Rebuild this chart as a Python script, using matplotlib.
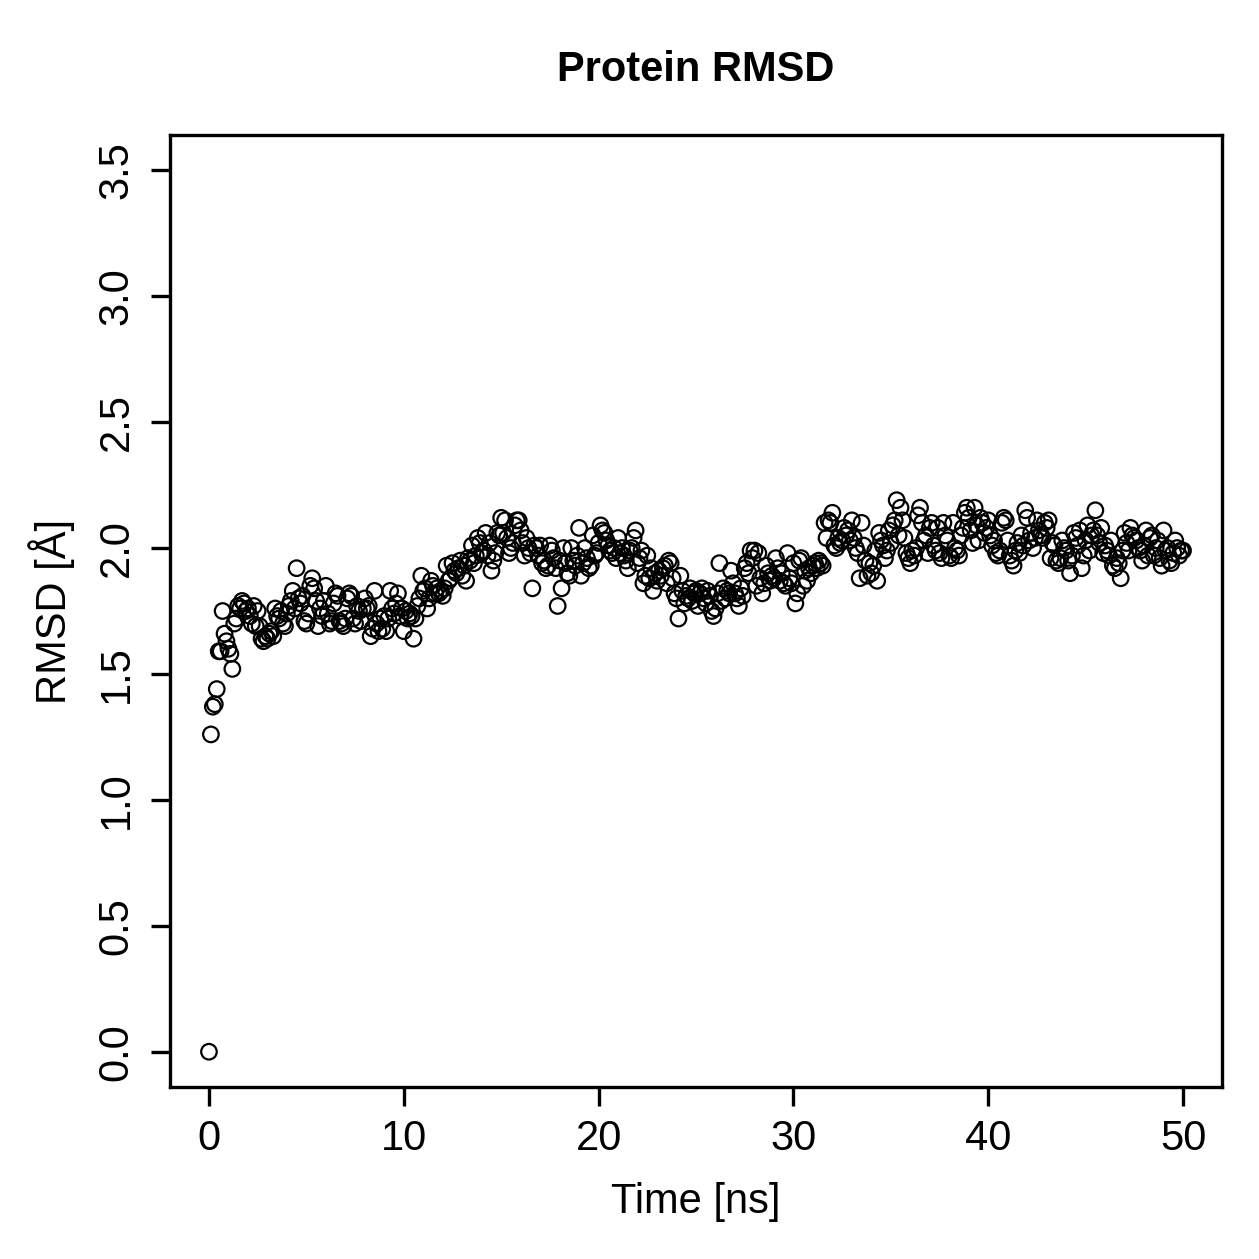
import numpy as np
import matplotlib
matplotlib.use("Agg")
import matplotlib.pyplot as plt

plt.rcParams['font.family'] = ['Liberation Sans', 'DejaVu Sans']

# RMSD values, one frame every 0.1 ns (rows = 1 ns)
rmsd = [
    0.00, 1.26, 1.37, 1.38, 1.44, 1.59, 1.59, 1.75, 1.66, 1.63,
    1.60, 1.58, 1.52, 1.70, 1.72, 1.77, 1.76, 1.79, 1.78, 1.75,
    1.76, 1.73, 1.70, 1.77, 1.69, 1.75, 1.69, 1.64, 1.63, 1.65,
    1.64, 1.66, 1.67, 1.65, 1.76, 1.73, 1.72, 1.75, 1.70, 1.69,
    1.74, 1.77, 1.79, 1.83, 1.76, 1.92, 1.80, 1.78, 1.81, 1.71,
    1.70, 1.74, 1.85, 1.88, 1.84, 1.79, 1.69, 1.76, 1.73, 1.79,
    1.85, 1.74, 1.70, 1.71, 1.78, 1.82, 1.81, 1.71, 1.70, 1.69,
    1.72, 1.80, 1.82, 1.81, 1.72, 1.70, 1.77, 1.75, 1.71, 1.76,
    1.80, 1.76, 1.77, 1.65, 1.68, 1.83, 1.70, 1.67, 1.72, 1.68,
    1.73, 1.67, 1.72, 1.83, 1.76, 1.74, 1.78, 1.82, 1.73, 1.76,
    1.67, 1.75, 1.72, 1.74, 1.73, 1.64, 1.72, 1.77, 1.80, 1.89,
    1.83, 1.84, 1.76, 1.80, 1.87, 1.85, 1.82, 1.84, 1.82, 1.83,
    1.81, 1.84, 1.93, 1.87, 1.88, 1.94, 1.91, 1.90, 1.92, 1.95,
    1.89, 1.93, 1.87, 1.96, 1.95, 2.01, 1.94, 1.97, 2.04, 2.02,
    1.98, 1.99, 2.06, 1.97, 2.02, 1.91, 1.95, 1.98, 2.06, 2.05,
    2.12, 2.06, 2.11, 2.04, 1.98, 2.00, 2.02, 2.09, 2.11, 2.11,
    2.07, 2.02, 1.97, 2.04, 2.00, 1.98, 1.84, 2.01, 2.00, 1.97,
    2.01, 1.94, 1.95, 1.92, 1.93, 2.01, 1.99, 1.96, 1.92, 1.77,
    1.95, 1.84, 2.00, 1.94, 1.90, 1.89, 2.00, 1.95, 1.93, 1.97,
    2.08, 1.89, 1.94, 2.00, 1.96, 1.92, 1.93, 2.05, 1.97, 1.98,
    2.02, 2.09, 2.07, 2.06, 2.03, 2.01, 1.99, 1.98, 2.00, 1.96,
    2.04, 1.98, 2.00, 1.97, 1.95, 1.92, 1.99, 2.00, 2.04, 2.07,
    1.94, 1.96, 1.99, 1.86, 1.89, 1.97, 1.88, 1.92, 1.83, 1.90,
    1.87, 1.91, 1.89, 1.92, 1.93, 1.86, 1.95, 1.94, 1.88, 1.82,
    1.80, 1.72, 1.89, 1.83, 1.78, 1.81, 1.80, 1.84, 1.79, 1.82,
    1.83, 1.77, 1.82, 1.84, 1.80, 1.78, 1.83, 1.81, 1.75, 1.73,
    1.76, 1.82, 1.94, 1.79, 1.84, 1.80, 1.83, 1.82, 1.91, 1.86,
    1.82, 1.80, 1.77, 1.84, 1.81, 1.92, 1.94, 1.90, 1.99, 1.96,
    1.99, 1.85, 1.98, 1.88, 1.82, 1.86, 1.93, 1.90, 1.87, 1.89,
    1.88, 1.96, 1.92, 1.87, 1.90, 1.86, 1.85, 1.98, 1.88, 1.86,
    1.94, 1.78, 1.82, 1.95, 1.96, 1.85, 1.91, 1.87, 1.92, 1.90,
    1.93, 1.94, 1.92, 1.95, 1.94, 1.93, 2.10, 2.04, 2.11, 2.10,
    2.14, 2.01, 2.00, 2.04, 2.02, 2.03, 2.08, 2.05, 2.07, 2.03,
    2.11, 2.04, 2.00, 1.98, 1.88, 2.10, 2.01, 1.95, 1.89, 1.94,
    1.90, 1.93, 1.99, 1.87, 2.06, 2.03, 2.01, 1.96, 1.99, 2.07,
    2.02, 2.09, 2.11, 2.19, 2.05, 2.16, 2.11, 2.04, 1.98, 1.96,
    1.94, 1.99, 1.97, 2.00, 2.13, 2.16, 2.10, 2.03, 2.05, 1.98,
    2.08, 2.10, 2.01, 1.99, 2.08, 1.98, 1.96, 2.10, 2.05, 2.03,
    1.97, 1.96, 2.10, 2.00, 1.99, 1.97, 2.05, 2.08, 2.14, 2.16,
    2.12, 2.07, 2.02, 2.16, 2.09, 2.03, 2.12, 2.10, 2.06, 2.08,
    2.11, 2.05, 2.01, 2.03, 1.98, 1.97, 1.99, 2.10, 2.12, 2.11,
    2.03, 1.97, 1.95, 1.93, 1.99, 2.02, 1.98, 2.05, 2.01, 2.15,
    2.12, 2.03, 2.06, 2.00, 2.04, 2.11, 2.07, 2.05, 2.04, 2.10,
    2.08, 2.11, 1.96, 2.02, 2.01, 1.95, 1.94, 1.96, 2.03, 2.00,
    1.99, 1.95, 1.90, 1.97, 2.06, 2.04, 2.01, 2.07, 1.92, 1.97,
    2.03, 2.09, 1.99, 2.05, 2.07, 2.15, 2.05, 2.02, 2.08, 1.98,
    2.01, 1.99, 1.97, 2.03, 1.93, 1.92, 1.96, 1.94, 1.88, 1.99,
    2.06, 2.02, 1.99, 2.08, 2.05, 2.04, 2.03, 2.00, 1.99, 1.95,
    2.01, 2.07, 1.97, 2.04, 2.05, 1.97, 2.00, 2.03, 1.96, 1.93,
    2.07, 1.99, 2.00, 1.95, 1.94, 1.98, 2.03, 2.00, 1.97, 1.99, 1.99,
]
frame_step = 0.1  # ns per frame
time = np.arange(len(rmsd)) * frame_step

xticks = [0, 10, 20, 30, 40, 50]
yticks = [0.0, 0.5, 1.0, 1.5, 2.0, 2.5, 3.0, 3.5]

W = 1259
fig = plt.figure(figsize=(12.59, 12.59), dpi=100)
ax = fig.add_axes([170 / W, 1 - 1087 / W, (1222 - 170) / W, (1087 - 135) / W])

ax.scatter(time, rmsd, s=125, facecolors='none', edgecolors='black', linewidths=1.6)

ax.set_xlim(-2, 52)
ax.set_ylim(-0.14, 3.64)
ax.set_xticks(xticks)
ax.set_xticklabels([str(t) for t in xticks])
ax.set_yticks(yticks)
ax.set_yticklabels(['%.1f' % v for v in yticks])

for s in ax.spines.values():
    s.set_linewidth(2.4)
ax.tick_params(length=14, width=2.4, labelsize=30, pad=9)
ax.tick_params(axis='y', labelrotation=90, pad=10)
for lab in ax.get_yticklabels():
    lab.set_va('center')

fig.text(696 / W, 1 - 70 / W, 'Protein RMSD', ha='center', va='center',
         fontsize=30, fontweight='bold')
fig.text(696 / W, 1 - 1202 / W, 'Time [ns]', ha='center', va='center', fontsize=30)
fig.text(52 / W, 1 - 611 / W, 'RMSD [Å]', ha='center', va='center', fontsize=30,
         rotation=90)

fig.savefig('out.png', dpi=100, facecolor='white')
